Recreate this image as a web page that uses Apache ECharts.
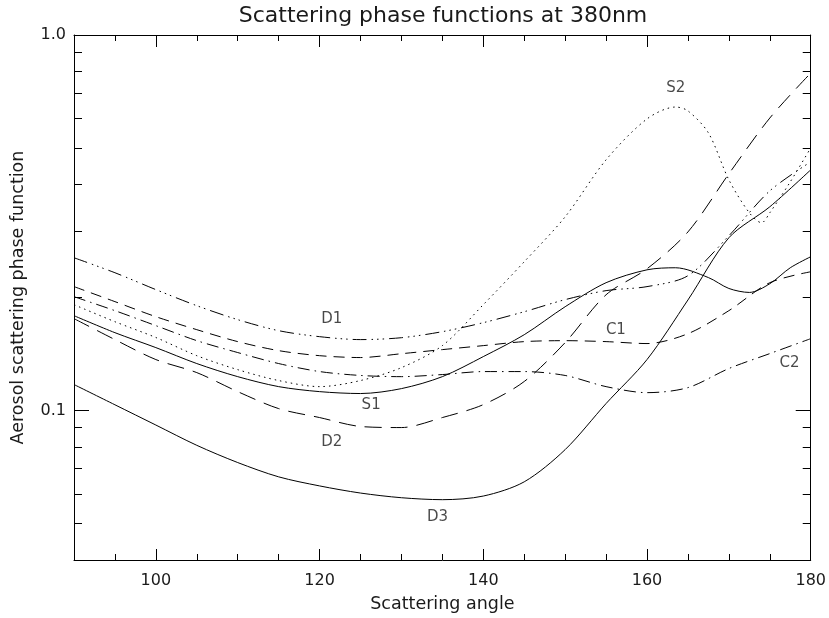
<!DOCTYPE html>
<html>
<head>
<meta charset="utf-8">
<script src="https://cdn.jsdelivr.net/npm/echarts@6/dist/echarts.min.js"></script>
<style>
html,body{margin:0;padding:0;background:#fff;}
#chart{width:829px;height:618px;}
</style>
</head>
<body>
<div id="chart"></div>
<script>
// ---- data ----
const angles = [90,95,100,105,110,115,120,125,130,135,140,145,150,155,160,165,170,175,180];
const D1 = [0.2552,0.2328,0.2099,0.1902,0.1746,0.1632,0.1573,0.1545,0.1563,0.1622,0.1714,0.1833,0.1974,0.2086,0.2138,0.2286,0.292,0.3846,0.4595];
const D2 = [0.1757,0.1545,0.1367,0.1262,0.1123,0.1012,0.0958,0.0907,0.0901,0.0958,0.1037,0.1195,0.1517,0.2034,0.2385,0.299,0.427,0.601,0.792];
const D3 = [0.1173,0.1036,0.0915,0.0808,0.0727,0.0666,0.0630,0.0603,0.0586,0.0579,0.0592,0.0646,0.0787,0.1044,0.1367,0.197,0.2885,0.3488,0.4375];
const C1 = [0.2138,0.195,0.1778,0.1642,0.1526,0.1444,0.1400,0.1384,0.1417,0.1453,0.1489,0.1526,0.1535,0.1526,0.1508,0.1602,0.1845,0.219,0.2342];
const C2 = [0.2010,0.1845,0.1683,0.1535,0.1427,0.1334,0.1270,0.1240,0.1231,0.1247,0.1270,0.1270,0.1240,0.1158,0.1116,0.1151,0.1294,0.1418,0.1554];
const S1angles = [90,95,100,105,110,115,120,125,130,135,140,145,150,155,160,163.5,167.5,170,172.5,175,177.5,180];
const S1 = [0.1789,0.1612,0.1471,0.1334,0.1231,0.1158,0.1123,0.1110,0.1144,0.1231,0.1392,0.1592,0.189,0.219,0.237,0.240,0.226,0.2114,0.2063,0.2176,0.240,0.2568];
const S2angles = [90,95,100,105,110,115,120,125,130,135,140,145,150,155,160,163.5,165,167.5,170,172.5,174,175,177.5,180];
const S2 = [0.1914,0.1724,0.1565,0.1400,0.1285,0.1202,0.1158,0.1202,0.1301,0.1489,0.1914,0.2490,0.328,0.4652,0.5978,0.643,0.628,0.5487,0.4115,0.3362,0.3162,0.3362,0.4064,0.5006];

const curveNames = ['D1','D2','D3','C1','C2','S1','S2'];
const labelNames = ['D1','S1','D2','D3','C1','C2','S2'];
const labelX = [121.5,126.3,121.5,134.4,156.2,177.4,163.5];
const labelY = [0.1757,0.1031,0.0822,0.0519,0.1642,0.1341,0.7228];

const xMajorTicks = [100,120,140,160,180];
const xMinorTicks = [95,105,110,115,125,130,135,145,150,155,165,170,175];
const yMajorTicks = [0.1,1];
const yMinorTicks = [0.05,0.06,0.07,0.08,0.09,0.2,0.3,0.4,0.5,0.6,0.7,0.8,0.9];

const titleText = 'Scattering phase functions at 380nm';
const xName = 'Scattering angle';
const yName = 'Aerosol scattering phase function';

// ---- chart ----
const FONT = 'DejaVu Sans';
const TXT = '#1a1a1a';
const pair = (xs, ys) => xs.map((x, i) => [x, ys[i]]);
const lg = v => Math.log10(v);
const yLogMin = lg(0.04), yLogMax = 0;

function xAx(pos, ticks, len, extra) {
  return Object.assign({
    type: 'value', min: 90, max: 180, position: pos,
    axisLine: {show: false, onZero: false},
    axisTick: {show: true, inside: true, length: len, customValues: ticks, lineStyle: {color: '#000', width: 1}},
    axisLabel: {show: false},
    splitLine: {show: false}
  }, extra || {});
}
function yAx(pos, ticks, len, extra) {
  return Object.assign({
    type: 'value', min: yLogMin, max: yLogMax, position: pos,
    axisLine: {show: false, onZero: false},
    axisTick: {show: true, inside: true, length: len, customValues: ticks.map(lg), lineStyle: {color: '#000', width: 1}},
    axisLabel: {show: false},
    splitLine: {show: false}
  }, extra || {});
}
const lineOn = {show: true, onZero: false, lineStyle: {color: '#000', width: 1}};

const styles = {
  D1: {type: [14,5,1.5,4,1.5,4,1.5,5]},
  D2: {type: [17,9]},
  D3: {type: 'solid'},
  C1: {type: [11,7]},
  C2: {type: [12,5,1.5,5]},
  S1: {type: 'solid'},
  S2: {type: [1.5,4]}
};
const dataOf = {
  D1: pair(angles, D1), D2: pair(angles, D2), D3: pair(angles, D3),
  C1: pair(angles, C1), C2: pair(angles, C2),
  S1: pair(S1angles, S1), S2: pair(S2angles, S2)
};

const series = curveNames.map(n => ({
  name: n, type: 'line', xAxisIndex: 0, yAxisIndex: 0,
  data: dataOf[n], showSymbol: false, symbol: 'none', smooth: 0.3,
  lineStyle: Object.assign({color: '#000', width: 1}, styles[n]),
  silent: true, animation: false
}));
series.push({
  type: 'scatter', xAxisIndex: 0, yAxisIndex: 0, symbolSize: 0,
  data: labelNames.map((n, i) => ({name: n, value: [labelX[i], labelY[i]]})),
  label: {show: true, position: 'inside', formatter: p => p.name,
          color: TXT, fontSize: 15, fontFamily: FONT},
  silent: true, animation: false
});

const chart = echarts.init(document.getElementById('chart'), null, {renderer: 'canvas'});
chart.setOption({
  backgroundColor: '#fff',
  animation: false,
  title: {
    text: titleText, left: 438, top: 0, textAlign: 'center',
    textStyle: {fontFamily: FONT, fontSize: 22, fontWeight: 'normal', color: TXT}
  },
  grid: {left: 74, right: 17, top: 35, bottom: 57, containLabel: false},
  xAxis: [
    xAx('bottom', xMajorTicks, 11, {
      axisLine: lineOn,
      axisLabel: {show: true, customValues: xMajorTicks, margin: 13, fontSize: 16, fontFamily: FONT, color: TXT},
      name: xName, nameLocation: 'middle', nameGap: 35,
      nameTextStyle: {fontSize: 17.5, fontFamily: FONT, color: TXT}
    }),
    xAx('bottom', xMinorTicks, 6),
    xAx('top', xMajorTicks, 12, {axisLine: lineOn}),
    xAx('top', xMinorTicks, 6)
  ],
  yAxis: [
    {
      type: 'log', logBase: 10, min: 0.04, max: 1, position: 'left',
      axisLine: lineOn,
      axisTick: {show: false},
      splitLine: {show: false}, minorTick: {show: false}, minorSplitLine: {show: false},
      axisLabel: {
        show: true, margin: 8, fontSize: 16, fontFamily: FONT, color: TXT,
        showMinLabel: false,
        formatter: v => Math.abs(v - 1) < 1e-6 ? '1.0' : (Math.abs(v - 0.1) < 1e-7 ? '0.1' : '')
      },
      name: yName, nameLocation: 'middle', nameGap: 47, nameRotate: 90,
      nameTextStyle: {fontSize: 17.5, fontFamily: FONT, color: TXT}
    },
    yAx('left', yMajorTicks, 15),
    yAx('left', yMinorTicks, 8),
    yAx('right', yMajorTicks, 15, {axisLine: lineOn}),
    yAx('right', yMinorTicks, 8)
  ],
  series: series
});
</script>
</body>
</html>
